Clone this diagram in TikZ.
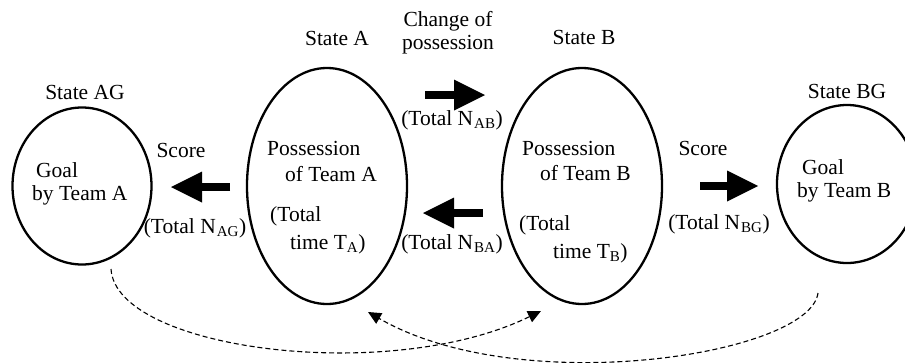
\documentclass[tikz,border=0pt]{standalone}
\usepackage{fontspec}
\setmainfont{Liberation Serif}
\usetikzlibrary{shapes.geometric,arrows.meta}
\begin{document}
\begin{tikzpicture}[x=1pt,y=-1pt,
  state/.style={draw, ellipse, line width=2.3pt, inner sep=0pt},
  lbl/.style={font=\fontsize{21.5}{24}\selectfont, inner sep=0pt},
  lleft/.style={lbl, anchor=west},
  fat/.style={line width=8pt, -{Triangle[length=31pt,width=31pt,line width=0pt]}},
  flow/.style={line width=1.1pt, dash pattern=on 5pt off 3pt, -{Triangle[length=13pt,width=12pt]}}]
\useasboundingbox (0,0) rectangle (905,362);
\clip (0,0) rectangle (905,362);
% states
\node[state, minimum width=139pt, minimum height=157pt] (ag) at (82,186) {};
\node[state, minimum width=160pt, minimum height=236pt] (a) at (327,186) {};
\node[state, minimum width=160pt, minimum height=236pt] (b) at (582,186) {};
\node[state, minimum width=140pt, minimum height=158pt] (bg) at (847,184) {};
% titles
\node[lbl] (tag) at (85,92) {State AG};
\node[lbl] (ta) at (337,38) {State A};
\node[lbl, align=center] (tchg) at (448,33) {Change of\\[-1pt]possession};
\node[lbl] (tb) at (584,37) {State B};
\node[lbl] (tbg) at (847,91) {State BG};
% inner texts
\node[lleft] (g1) at (36,170) {Goal};
\node[lleft] (g2) at (32,195) {by Team A};
\node[lleft] (pa1) at (267,148) {Possession};
\node[lleft] (pa2) at (285,174) {of Team A};
\node[lleft] (pa3) at (270,216) {(Total};
\node[lleft] (pa4) at (290,244) {time T\textsubscript{A})};
\node[lleft] (pb1) at (522,148) {Possession};
\node[lleft] (pb2) at (540,173) {of Team B};
\node[lleft] (pb3) at (519,225) {(Total};
\node[lleft] (pb4) at (553,253) {time T\textsubscript{B})};
\node[lleft] (h1) at (802,167) {Goal};
\node[lleft] (h2) at (797,192) {by Team B};
% transition labels
\node[lbl] (sc1) at (181,150) {Score};
\node[lbl] (nag) at (195,228) {(Total N\kern1pt\textsubscript{AG})};
\node[lbl] (nab) at (452,120) {(Total N\kern1pt\textsubscript{AB})};
\node[lbl] (nba) at (452,244) {(Total N\kern1pt\textsubscript{BA})};
\node[lbl] (sc2) at (703,148) {Score};
\node[lbl] (nbg) at (719,224) {(Total N\kern1pt\textsubscript{BG})};
% fat arrows
\coordinate (f1s) at (230,187); \coordinate (f1e) at (171,187);
\coordinate (f2s) at (425,95);  \coordinate (f2e) at (485,95);
\coordinate (f3s) at (483,213); \coordinate (f3e) at (423,213);
\coordinate (f4s) at (700,186); \coordinate (f4e) at (758,186);
\draw[fat] (f1s) -- (f1e);
\draw[fat] (f2s) -- (f2e);
\draw[fat] (f3s) -- (f3e);
\draw[fat] (f4s) -- (f4e);
% dashed return flows
\coordinate (d1s) at (111,269); \coordinate (d1e) at (541,311);
\coordinate (d2s) at (818,293); \coordinate (d2e) at (368,312);
\draw[flow] (d1s) .. controls (116,350) and (390,385) .. (d1e);
\draw[flow] (d2s) .. controls (810,355) and (520,400) .. (d2e);
\end{tikzpicture}
\end{document}
